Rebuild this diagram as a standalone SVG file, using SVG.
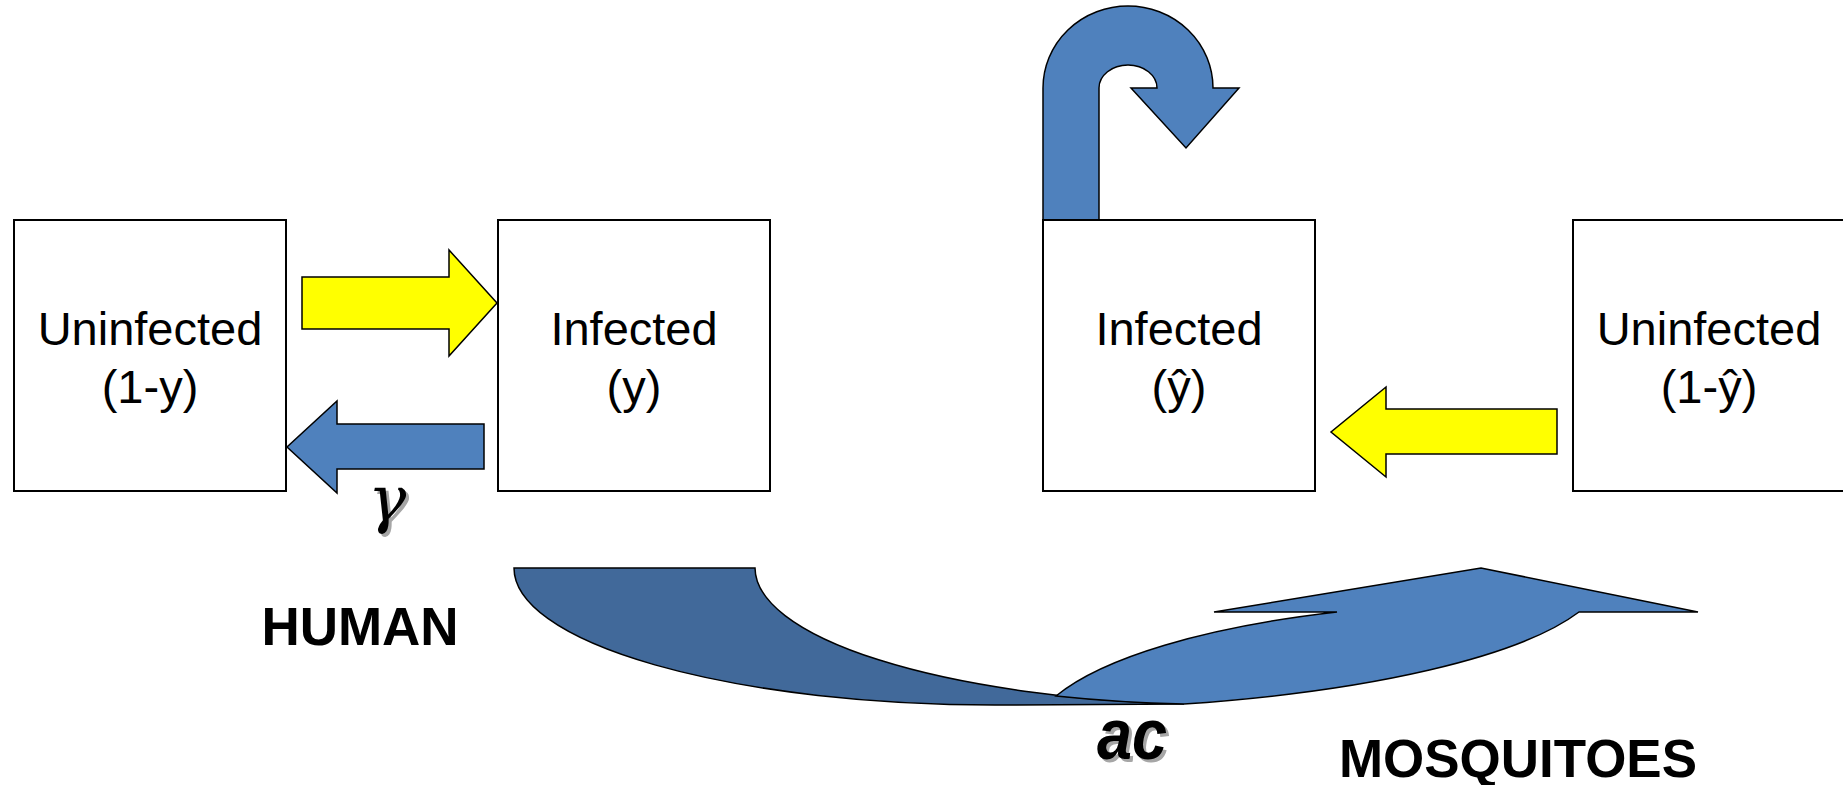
<svg xmlns="http://www.w3.org/2000/svg" width="1843" height="785" viewBox="0 0 1843 785">
<style>
.box{fill:#ffffff;stroke:#000000;stroke-width:2}
.lbl{font-family:"Liberation Sans",Arial,sans-serif;font-size:47px;fill:#000000;text-anchor:middle}
.big{font-family:"Liberation Sans",Arial,sans-serif;font-weight:bold;fill:#000000;text-anchor:middle}
.yel{fill:#ffff00;stroke:#000000;stroke-width:1.5;stroke-linejoin:miter}
.blu{fill:#4f81bd;stroke:#000000;stroke-width:1.5}
.dk{fill:#41699a;stroke:#000000;stroke-width:1.5}
.sh{fill:#a6a6a6}
.gam{font-family:"DejaVu Serif","Liberation Serif",serif;font-style:italic;font-size:64px;text-anchor:middle}
</style>
<rect width="1843" height="785" fill="#ffffff"/>
<g id="connectors">
  <polygon class="yel" points="302,277 449,277 449,250 497,303 449,356 449,329 302,329"/>
  <polygon class="blu" points="484,424 337,424 337,401 287,447 337,493 337,469 484,469"/>
  <polygon class="yel" points="1557,409 1386,409 1386,387 1331,432 1386,477 1386,454 1557,454"/>
  <path class="blu" d="M1043,220 L1043,88 A85,82 0 0 1 1213,88 L1239,88 L1186,148 L1131,88 L1157,88 A29,23 0 0 0 1099,88 L1099,220 Z"/>
  <path class="dk" d="M514,568 L755,568 A475,137 0 0 0 1184,704 L995,705 A481,137 0 0 1 514,568 Z"/>
  <path class="blu" d="M1056,696 A488,140 0 0 1 1337,612 L1214,612 L1481,568 L1698,612 L1579,612 A580,140 0 0 1 1184,704 A475,137 0 0 1 1056,696 Z"/>
</g>
<g id="human-uninfected">
  <rect class="box" x="14" y="220" width="272" height="271"/>
  <text class="lbl" x="150" y="345">Uninfected</text>
  <text class="lbl" x="150" y="403">(1-y)</text>
</g>
<g id="human-infected">
  <rect class="box" x="498" y="220" width="272" height="271"/>
  <text class="lbl" x="634" y="345">Infected</text>
  <text class="lbl" x="634" y="403">(y)</text>
</g>
<g id="mosquito-infected">
  <rect class="box" x="1043" y="220" width="272" height="271"/>
  <text class="lbl" x="1179" y="345">Infected</text>
  <text class="lbl" x="1179" y="403">(ŷ)</text>
</g>
<g id="mosquito-uninfected">
  <rect class="box" x="1573" y="220" width="272" height="271"/>
  <text class="lbl" x="1709" y="345">Uninfected</text>
  <text class="lbl" x="1709" y="403">(1-ŷ)</text>
</g>
<g id="label-gamma">
  <text class="gam sh" x="390" y="524">γ</text>
  <text class="gam" x="387" y="521" fill="#000000">γ</text>
</g>
<g id="label-ac">
  <text class="sh" x="1135" y="762" font-family="'Liberation Sans',Arial,sans-serif" font-weight="bold" font-style="italic" font-size="72" text-anchor="middle" textLength="70" lengthAdjust="spacingAndGlyphs">ac</text>
  <text x="1132" y="759" font-family="'Liberation Sans',Arial,sans-serif" font-weight="bold" font-style="italic" font-size="72" text-anchor="middle" fill="#000000" textLength="70" lengthAdjust="spacingAndGlyphs">ac</text>
</g>
<g id="label-human">
  <text class="big" x="360" y="645" font-size="53">HUMAN</text>
</g>
<g id="label-mosquitoes">
  <text class="big" x="1518" y="777" font-size="54" textLength="358" lengthAdjust="spacingAndGlyphs">MOSQUITOES</text>
</g>
</svg>
